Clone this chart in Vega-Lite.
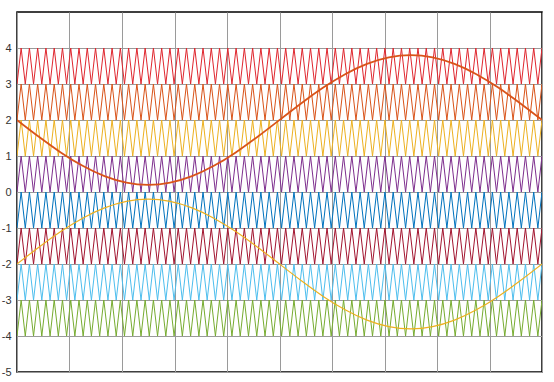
{
  "$schema": "https://vega.github.io/schema/vega-lite/v6.json",
  "width": 525,
  "height": 360,
  "autosize": {"type": "none"},
  "padding": {"left": 17, "top": 12, "right": 12, "bottom": 10},
  "background": "white",
  "config": {
    "view": {"stroke": "#000000", "strokeWidth": 1.5},
    "axis": {"gridColor": "#9a9a9a", "gridWidth": 1, "gridOpacity": 1, "domain": false, "ticks": false, "tickSize": 0},
    "axisY": {"labelOverlap": false, "labelFont": "Liberation Sans", "labelFontSize": 11, "labelColor": "#333333", "labelPadding": 6}
  },
  "datasets": {
    "triangles": [
      {"x":0,"r":3,"o":2,"y":1,"p":0,"b":-1,"c":-2,"l":-3,"g":-4},{"x":1,"r":4,"o":3,"y":2,"p":1,"b":0,"c":-1,"l":-2,"g":-3},
      {"x":2,"r":3,"o":2,"y":1,"p":0,"b":-1,"c":-2,"l":-3,"g":-4},{"x":3,"r":4,"o":3,"y":2,"p":1,"b":0,"c":-1,"l":-2,"g":-3},
      {"x":4,"r":3,"o":2,"y":1,"p":0,"b":-1,"c":-2,"l":-3,"g":-4},{"x":5,"r":4,"o":3,"y":2,"p":1,"b":0,"c":-1,"l":-2,"g":-3},
      {"x":6,"r":3,"o":2,"y":1,"p":0,"b":-1,"c":-2,"l":-3,"g":-4},{"x":7,"r":4,"o":3,"y":2,"p":1,"b":0,"c":-1,"l":-2,"g":-3},
      {"x":8,"r":3,"o":2,"y":1,"p":0,"b":-1,"c":-2,"l":-3,"g":-4},{"x":9,"r":4,"o":3,"y":2,"p":1,"b":0,"c":-1,"l":-2,"g":-3},
      {"x":10,"r":3,"o":2,"y":1,"p":0,"b":-1,"c":-2,"l":-3,"g":-4},{"x":11,"r":4,"o":3,"y":2,"p":1,"b":0,"c":-1,"l":-2,"g":-3},
      {"x":12,"r":3,"o":2,"y":1,"p":0,"b":-1,"c":-2,"l":-3,"g":-4},{"x":13,"r":4,"o":3,"y":2,"p":1,"b":0,"c":-1,"l":-2,"g":-3},
      {"x":14,"r":3,"o":2,"y":1,"p":0,"b":-1,"c":-2,"l":-3,"g":-4},{"x":15,"r":4,"o":3,"y":2,"p":1,"b":0,"c":-1,"l":-2,"g":-3},
      {"x":16,"r":3,"o":2,"y":1,"p":0,"b":-1,"c":-2,"l":-3,"g":-4},{"x":17,"r":4,"o":3,"y":2,"p":1,"b":0,"c":-1,"l":-2,"g":-3},
      {"x":18,"r":3,"o":2,"y":1,"p":0,"b":-1,"c":-2,"l":-3,"g":-4},{"x":19,"r":4,"o":3,"y":2,"p":1,"b":0,"c":-1,"l":-2,"g":-3},
      {"x":20,"r":3,"o":2,"y":1,"p":0,"b":-1,"c":-2,"l":-3,"g":-4},{"x":21,"r":4,"o":3,"y":2,"p":1,"b":0,"c":-1,"l":-2,"g":-3},
      {"x":22,"r":3,"o":2,"y":1,"p":0,"b":-1,"c":-2,"l":-3,"g":-4},{"x":23,"r":4,"o":3,"y":2,"p":1,"b":0,"c":-1,"l":-2,"g":-3},
      {"x":24,"r":3,"o":2,"y":1,"p":0,"b":-1,"c":-2,"l":-3,"g":-4},{"x":25,"r":4,"o":3,"y":2,"p":1,"b":0,"c":-1,"l":-2,"g":-3},
      {"x":26,"r":3,"o":2,"y":1,"p":0,"b":-1,"c":-2,"l":-3,"g":-4},{"x":27,"r":4,"o":3,"y":2,"p":1,"b":0,"c":-1,"l":-2,"g":-3},
      {"x":28,"r":3,"o":2,"y":1,"p":0,"b":-1,"c":-2,"l":-3,"g":-4},{"x":29,"r":4,"o":3,"y":2,"p":1,"b":0,"c":-1,"l":-2,"g":-3},
      {"x":30,"r":3,"o":2,"y":1,"p":0,"b":-1,"c":-2,"l":-3,"g":-4},{"x":31,"r":4,"o":3,"y":2,"p":1,"b":0,"c":-1,"l":-2,"g":-3},
      {"x":32,"r":3,"o":2,"y":1,"p":0,"b":-1,"c":-2,"l":-3,"g":-4},{"x":33,"r":4,"o":3,"y":2,"p":1,"b":0,"c":-1,"l":-2,"g":-3},
      {"x":34,"r":3,"o":2,"y":1,"p":0,"b":-1,"c":-2,"l":-3,"g":-4},{"x":35,"r":4,"o":3,"y":2,"p":1,"b":0,"c":-1,"l":-2,"g":-3},
      {"x":36,"r":3,"o":2,"y":1,"p":0,"b":-1,"c":-2,"l":-3,"g":-4},{"x":37,"r":4,"o":3,"y":2,"p":1,"b":0,"c":-1,"l":-2,"g":-3},
      {"x":38,"r":3,"o":2,"y":1,"p":0,"b":-1,"c":-2,"l":-3,"g":-4},{"x":39,"r":4,"o":3,"y":2,"p":1,"b":0,"c":-1,"l":-2,"g":-3},
      {"x":40,"r":3,"o":2,"y":1,"p":0,"b":-1,"c":-2,"l":-3,"g":-4},{"x":41,"r":4,"o":3,"y":2,"p":1,"b":0,"c":-1,"l":-2,"g":-3},
      {"x":42,"r":3,"o":2,"y":1,"p":0,"b":-1,"c":-2,"l":-3,"g":-4},{"x":43,"r":4,"o":3,"y":2,"p":1,"b":0,"c":-1,"l":-2,"g":-3},
      {"x":44,"r":3,"o":2,"y":1,"p":0,"b":-1,"c":-2,"l":-3,"g":-4},{"x":45,"r":4,"o":3,"y":2,"p":1,"b":0,"c":-1,"l":-2,"g":-3},
      {"x":46,"r":3,"o":2,"y":1,"p":0,"b":-1,"c":-2,"l":-3,"g":-4},{"x":47,"r":4,"o":3,"y":2,"p":1,"b":0,"c":-1,"l":-2,"g":-3},
      {"x":48,"r":3,"o":2,"y":1,"p":0,"b":-1,"c":-2,"l":-3,"g":-4},{"x":49,"r":4,"o":3,"y":2,"p":1,"b":0,"c":-1,"l":-2,"g":-3},
      {"x":50,"r":3,"o":2,"y":1,"p":0,"b":-1,"c":-2,"l":-3,"g":-4},{"x":51,"r":4,"o":3,"y":2,"p":1,"b":0,"c":-1,"l":-2,"g":-3},
      {"x":52,"r":3,"o":2,"y":1,"p":0,"b":-1,"c":-2,"l":-3,"g":-4},{"x":53,"r":4,"o":3,"y":2,"p":1,"b":0,"c":-1,"l":-2,"g":-3},
      {"x":54,"r":3,"o":2,"y":1,"p":0,"b":-1,"c":-2,"l":-3,"g":-4},{"x":55,"r":4,"o":3,"y":2,"p":1,"b":0,"c":-1,"l":-2,"g":-3},
      {"x":56,"r":3,"o":2,"y":1,"p":0,"b":-1,"c":-2,"l":-3,"g":-4},{"x":57,"r":4,"o":3,"y":2,"p":1,"b":0,"c":-1,"l":-2,"g":-3},
      {"x":58,"r":3,"o":2,"y":1,"p":0,"b":-1,"c":-2,"l":-3,"g":-4},{"x":59,"r":4,"o":3,"y":2,"p":1,"b":0,"c":-1,"l":-2,"g":-3},
      {"x":60,"r":3,"o":2,"y":1,"p":0,"b":-1,"c":-2,"l":-3,"g":-4},{"x":61,"r":4,"o":3,"y":2,"p":1,"b":0,"c":-1,"l":-2,"g":-3},
      {"x":62,"r":3,"o":2,"y":1,"p":0,"b":-1,"c":-2,"l":-3,"g":-4},{"x":63,"r":4,"o":3,"y":2,"p":1,"b":0,"c":-1,"l":-2,"g":-3},
      {"x":64,"r":3,"o":2,"y":1,"p":0,"b":-1,"c":-2,"l":-3,"g":-4},{"x":65,"r":4,"o":3,"y":2,"p":1,"b":0,"c":-1,"l":-2,"g":-3},
      {"x":66,"r":3,"o":2,"y":1,"p":0,"b":-1,"c":-2,"l":-3,"g":-4},{"x":67,"r":4,"o":3,"y":2,"p":1,"b":0,"c":-1,"l":-2,"g":-3},
      {"x":68,"r":3,"o":2,"y":1,"p":0,"b":-1,"c":-2,"l":-3,"g":-4},{"x":69,"r":4,"o":3,"y":2,"p":1,"b":0,"c":-1,"l":-2,"g":-3},
      {"x":70,"r":3,"o":2,"y":1,"p":0,"b":-1,"c":-2,"l":-3,"g":-4},{"x":71,"r":4,"o":3,"y":2,"p":1,"b":0,"c":-1,"l":-2,"g":-3},
      {"x":72,"r":3,"o":2,"y":1,"p":0,"b":-1,"c":-2,"l":-3,"g":-4},{"x":73,"r":4,"o":3,"y":2,"p":1,"b":0,"c":-1,"l":-2,"g":-3},
      {"x":74,"r":3,"o":2,"y":1,"p":0,"b":-1,"c":-2,"l":-3,"g":-4},{"x":75,"r":4,"o":3,"y":2,"p":1,"b":0,"c":-1,"l":-2,"g":-3},
      {"x":76,"r":3,"o":2,"y":1,"p":0,"b":-1,"c":-2,"l":-3,"g":-4},{"x":77,"r":4,"o":3,"y":2,"p":1,"b":0,"c":-1,"l":-2,"g":-3},
      {"x":78,"r":3,"o":2,"y":1,"p":0,"b":-1,"c":-2,"l":-3,"g":-4},{"x":79,"r":4,"o":3,"y":2,"p":1,"b":0,"c":-1,"l":-2,"g":-3},
      {"x":80,"r":3,"o":2,"y":1,"p":0,"b":-1,"c":-2,"l":-3,"g":-4},{"x":81,"r":4,"o":3,"y":2,"p":1,"b":0,"c":-1,"l":-2,"g":-3},
      {"x":82,"r":3,"o":2,"y":1,"p":0,"b":-1,"c":-2,"l":-3,"g":-4},{"x":83,"r":4,"o":3,"y":2,"p":1,"b":0,"c":-1,"l":-2,"g":-3},
      {"x":84,"r":3,"o":2,"y":1,"p":0,"b":-1,"c":-2,"l":-3,"g":-4},{"x":85,"r":4,"o":3,"y":2,"p":1,"b":0,"c":-1,"l":-2,"g":-3},
      {"x":86,"r":3,"o":2,"y":1,"p":0,"b":-1,"c":-2,"l":-3,"g":-4},{"x":87,"r":4,"o":3,"y":2,"p":1,"b":0,"c":-1,"l":-2,"g":-3},
      {"x":88,"r":3,"o":2,"y":1,"p":0,"b":-1,"c":-2,"l":-3,"g":-4},{"x":89,"r":4,"o":3,"y":2,"p":1,"b":0,"c":-1,"l":-2,"g":-3},
      {"x":90,"r":3,"o":2,"y":1,"p":0,"b":-1,"c":-2,"l":-3,"g":-4},{"x":91,"r":4,"o":3,"y":2,"p":1,"b":0,"c":-1,"l":-2,"g":-3},
      {"x":92,"r":3,"o":2,"y":1,"p":0,"b":-1,"c":-2,"l":-3,"g":-4},{"x":93,"r":4,"o":3,"y":2,"p":1,"b":0,"c":-1,"l":-2,"g":-3},
      {"x":94,"r":3,"o":2,"y":1,"p":0,"b":-1,"c":-2,"l":-3,"g":-4},{"x":95,"r":4,"o":3,"y":2,"p":1,"b":0,"c":-1,"l":-2,"g":-3},
      {"x":96,"r":3,"o":2,"y":1,"p":0,"b":-1,"c":-2,"l":-3,"g":-4},{"x":97,"r":4,"o":3,"y":2,"p":1,"b":0,"c":-1,"l":-2,"g":-3},
      {"x":98,"r":3,"o":2,"y":1,"p":0,"b":-1,"c":-2,"l":-3,"g":-4},{"x":99,"r":4,"o":3,"y":2,"p":1,"b":0,"c":-1,"l":-2,"g":-3},
      {"x":100,"r":3,"o":2,"y":1,"p":0,"b":-1,"c":-2,"l":-3,"g":-4},{"x":101,"r":4,"o":3,"y":2,"p":1,"b":0,"c":-1,"l":-2,"g":-3},
      {"x":102,"r":3,"o":2,"y":1,"p":0,"b":-1,"c":-2,"l":-3,"g":-4},{"x":103,"r":4,"o":3,"y":2,"p":1,"b":0,"c":-1,"l":-2,"g":-3},
      {"x":104,"r":3,"o":2,"y":1,"p":0,"b":-1,"c":-2,"l":-3,"g":-4},{"x":105,"r":4,"o":3,"y":2,"p":1,"b":0,"c":-1,"l":-2,"g":-3},
      {"x":106,"r":3,"o":2,"y":1,"p":0,"b":-1,"c":-2,"l":-3,"g":-4},{"x":107,"r":4,"o":3,"y":2,"p":1,"b":0,"c":-1,"l":-2,"g":-3},
      {"x":108,"r":3,"o":2,"y":1,"p":0,"b":-1,"c":-2,"l":-3,"g":-4},{"x":109,"r":4,"o":3,"y":2,"p":1,"b":0,"c":-1,"l":-2,"g":-3},
      {"x":110,"r":3,"o":2,"y":1,"p":0,"b":-1,"c":-2,"l":-3,"g":-4},{"x":111,"r":4,"o":3,"y":2,"p":1,"b":0,"c":-1,"l":-2,"g":-3},
      {"x":112,"r":3,"o":2,"y":1,"p":0,"b":-1,"c":-2,"l":-3,"g":-4},{"x":113,"r":4,"o":3,"y":2,"p":1,"b":0,"c":-1,"l":-2,"g":-3},
      {"x":114,"r":3,"o":2,"y":1,"p":0,"b":-1,"c":-2,"l":-3,"g":-4},{"x":115,"r":4,"o":3,"y":2,"p":1,"b":0,"c":-1,"l":-2,"g":-3},
      {"x":116,"r":3,"o":2,"y":1,"p":0,"b":-1,"c":-2,"l":-3,"g":-4},{"x":117,"r":4,"o":3,"y":2,"p":1,"b":0,"c":-1,"l":-2,"g":-3},
      {"x":118,"r":3,"o":2,"y":1,"p":0,"b":-1,"c":-2,"l":-3,"g":-4},{"x":119,"r":4,"o":3,"y":2,"p":1,"b":0,"c":-1,"l":-2,"g":-3},
      {"x":120,"r":3,"o":2,"y":1,"p":0,"b":-1,"c":-2,"l":-3,"g":-4},{"x":121,"r":4,"o":3,"y":2,"p":1,"b":0,"c":-1,"l":-2,"g":-3},
      {"x":122,"r":3,"o":2,"y":1,"p":0,"b":-1,"c":-2,"l":-3,"g":-4},{"x":123,"r":4,"o":3,"y":2,"p":1,"b":0,"c":-1,"l":-2,"g":-3},
      {"x":124,"r":3,"o":2,"y":1,"p":0,"b":-1,"c":-2,"l":-3,"g":-4},{"x":125,"r":4,"o":3,"y":2,"p":1,"b":0,"c":-1,"l":-2,"g":-3},
      {"x":126,"r":3,"o":2,"y":1,"p":0,"b":-1,"c":-2,"l":-3,"g":-4},{"x":127,"r":4,"o":3,"y":2,"p":1,"b":0,"c":-1,"l":-2,"g":-3}
    ],
    "sines": [
      {"x":0,"so":2,"sy":-2},
      {"x":5.292,"so":1.534,"sy":-1.534},
      {"x":10.583,"so":1.1,"sy":-1.1},
      {"x":15.875,"so":0.727,"sy":-0.727},
      {"x":21.167,"so":0.441,"sy":-0.441},
      {"x":26.458,"so":0.261,"sy":-0.261},
      {"x":31.75,"so":0.2,"sy":-0.2},
      {"x":37.042,"so":0.261,"sy":-0.261},
      {"x":42.333,"so":0.441,"sy":-0.441},
      {"x":47.625,"so":0.727,"sy":-0.727},
      {"x":52.917,"so":1.1,"sy":-1.1},
      {"x":58.208,"so":1.534,"sy":-1.534},
      {"x":63.5,"so":2,"sy":-2},
      {"x":68.792,"so":2.466,"sy":-2.466},
      {"x":74.083,"so":2.9,"sy":-2.9},
      {"x":79.375,"so":3.273,"sy":-3.273},
      {"x":84.667,"so":3.559,"sy":-3.559},
      {"x":89.958,"so":3.739,"sy":-3.739},
      {"x":95.25,"so":3.8,"sy":-3.8},
      {"x":100.542,"so":3.739,"sy":-3.739},
      {"x":105.833,"so":3.559,"sy":-3.559},
      {"x":111.125,"so":3.273,"sy":-3.273},
      {"x":116.417,"so":2.9,"sy":-2.9},
      {"x":121.708,"so":2.466,"sy":-2.466},
      {"x":127,"so":2,"sy":-2}
    ]
  },
  "encoding": {
    "x": {
      "field": "x", "type": "quantitative",
      "scale": {"domain": [0, 127], "nice": false, "zero": false},
      "axis": {"title": null, "labels": false, "grid": true, "values": [0, 12.7, 25.4, 38.1, 50.8, 63.5, 76.2, 88.9, 101.6, 114.3, 127]}
    },
    "y": {
      "field": "value", "type": "quantitative",
      "scale": {"domain": [-5, 5], "nice": false},
      "axis": {"title": null, "grid": true, "values": [-5, -4, -3, -2, -1, 0, 1, 2, 3, 4], "labelOverlap": false, "labelExpr": "'' + datum.value"}
    },
    "color": {
      "field": "signal", "type": "nominal", "legend": null,
      "scale": {
        "domain": ["r", "o", "y", "p", "b", "c", "l", "g", "so", "sy"],
        "range": ["#E0262E", "#D95319", "#EDB120", "#7E2F8E", "#0072BD", "#A2142F", "#4DBEEE", "#77AC30", "#D95319", "#EDB120"]
      }
    }
  },
  "layer": [
    {
      "data": {"name": "triangles"},
      "transform": [{"fold": ["r", "o", "y", "p", "b", "c", "l", "g"], "as": ["signal", "value"]}],
      "mark": {"type": "line", "strokeWidth": 1, "clip": true}
    },
    {
      "data": {"name": "sines"},
      "transform": [{"fold": ["sy"], "as": ["signal", "value"]}],
      "mark": {"type": "line", "strokeWidth": 1.2, "interpolate": "natural", "clip": true}
    },
    {
      "data": {"name": "sines"},
      "transform": [{"fold": ["so"], "as": ["signal", "value"]}],
      "mark": {"type": "line", "strokeWidth": 1.8, "interpolate": "natural", "clip": true}
    }
  ]
}
